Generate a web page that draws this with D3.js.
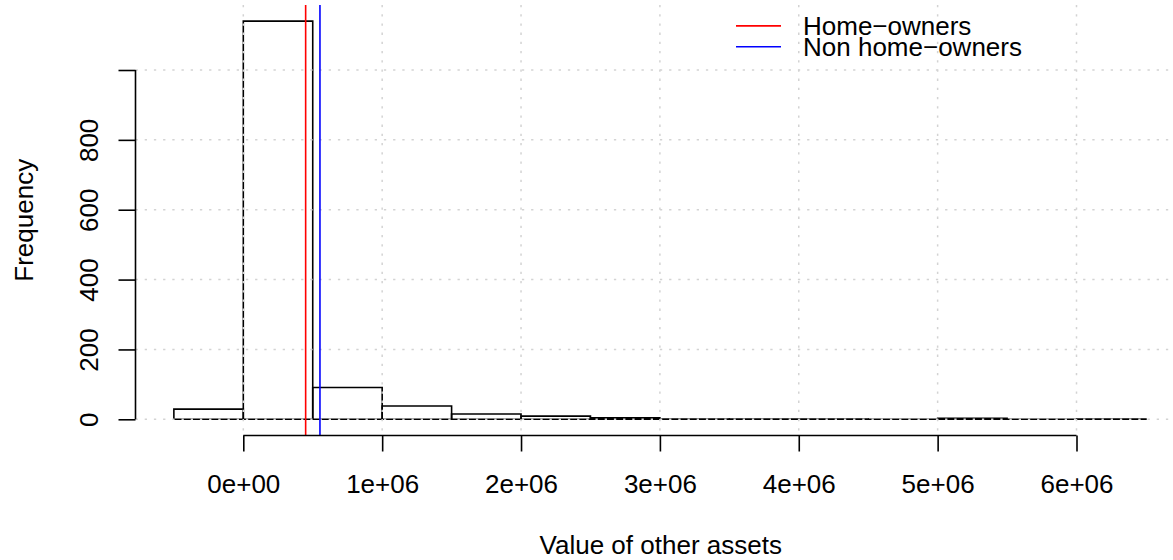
<!DOCTYPE html>
<html>
<head>
<meta charset="utf-8">
<script src="https://cdn.jsdelivr.net/npm/d3@7/dist/d3.min.js"></script>
<style>
  body { margin: 0; background: #ffffff; }
  svg { display: block; }
  text { font-family: "Liberation Sans", Arial, Helvetica, sans-serif; fill: #000; }
</style>
</head>
<body>
<svg id="chart" width="1173" height="560"></svg>
<script>
// Histogram breaks (value of other assets) and bin counts
const breaks = [-500000, 0, 500000, 1000000, 1500000, 2000000, 2500000, 3000000,
                3500000, 4000000, 4500000, 5000000, 5500000, 6000000, 6500000];
const counts = [29, 1140, 91, 38, 15, 9, 4, 1, 1, 1, 0, 3, 0, 1];

// Axis tick values; the top y tick is left unlabelled
const xTicks = [0, 1000000, 2000000, 3000000, 4000000, 5000000, 6000000];
const yTicks = [0, 200, 400, 600, 800, 1000];
const yTickLabels = ["0", "200", "400", "600", "800", ""];

// Group mean lines
const groupNames = ["Home\u2212owners", "Non home\u2212owners"];
const groupMeans = [449000, 552000];
const groupColors = ["#ff0000", "#0000ff"];

const FONT = 26;
const plot = { left: 135.5, right: 1186, top: 5, bottom: 435.5 };

const svg = d3.select("#chart");

const x = d3.scaleLinear().domain([0, 6000000]).range([243.3, 1076.5]);
const y = d3.scaleLinear().domain([0, 1000]).range([419.3, 70]);

// Scientific labels, e.g. 1e+06
function sci(v) {
  if (v === 0) return "0e+00";
  const e = Math.floor(Math.log10(Math.abs(v)));
  const m = Math.round(v / Math.pow(10, e));
  return m + "e" + (e >= 0 ? "+" : "-") + String(Math.abs(e)).padStart(2, "0");
}

// Histogram bars (outline only)
const bins = counts.map((c, i) => ({ lo: breaks[i], hi: breaks[i + 1], n: c }));
svg.append("g").selectAll("path").data(bins).join("path")
  .attr("d", d => `M${x(d.lo)},${y(0)}V${y(d.n)}H${x(d.hi)}V${y(0)}Z`)
  .attr("fill", "none")
  .attr("stroke", "#000")
  .attr("stroke-width", 1.6)
  .attr("stroke-linejoin", "miter");

// Dotted grid on top of the bars
const grid = svg.append("g")
  .attr("stroke", "#d3d3d3")
  .attr("stroke-width", 1.5)
  .attr("stroke-dasharray", "2.3,6.9");
grid.selectAll("line.v").data(xTicks).join("line").attr("class", "v")
  .attr("x1", d => x(d)).attr("x2", d => x(d))
  .attr("y1", plot.top).attr("y2", plot.bottom);
grid.selectAll("line.h").data(yTicks).join("line").attr("class", "h")
  .attr("x1", plot.left).attr("x2", plot.right)
  .attr("y1", d => y(d)).attr("y2", d => y(d));

// Mean lines
svg.append("g").selectAll("line").data(groupMeans).join("line")
  .attr("x1", d => x(d)).attr("x2", d => x(d))
  .attr("y1", plot.top).attr("y2", plot.bottom)
  .attr("stroke", (d, i) => groupColors[i])
  .attr("stroke-width", 1.6);

// X axis
const xAxis = svg.append("g")
  .attr("transform", `translate(0,${plot.bottom})`)
  .call(d3.axisBottom(x).tickValues(xTicks).tickFormat(sci).tickSize(16).tickSizeOuter(0));
xAxis.select(".domain").remove();
xAxis.append("line")
  .attr("x1", x(xTicks[0])).attr("x2", x(xTicks[xTicks.length - 1]))
  .attr("stroke", "#000").attr("stroke-width", 1.6);
xAxis.selectAll(".tick line").attr("stroke", "#000").attr("stroke-width", 1.6);
xAxis.selectAll(".tick text")
  .attr("y", 57.8).attr("dy", null)
  .attr("font-size", FONT)
  .attr("font-family", null)
  .attr("text-anchor", "middle");

// Y axis
const yAxis = svg.append("g")
  .attr("transform", `translate(${plot.left},0)`)
  .call(d3.axisLeft(y).tickValues(yTicks)
    .tickFormat((d, i) => yTickLabels[i]).tickSize(17).tickSizeOuter(0));
yAxis.select(".domain").remove();
yAxis.append("line")
  .attr("y1", y(yTicks[0])).attr("y2", y(yTicks[yTicks.length - 1]))
  .attr("stroke", "#000").attr("stroke-width", 1.6);
yAxis.selectAll(".tick line").attr("stroke", "#000").attr("stroke-width", 1.6);
yAxis.selectAll(".tick text")
  .attr("x", 0).attr("y", 0).attr("dy", null)
  .attr("transform", "translate(-37.5,0) rotate(-90)")
  .attr("font-size", FONT)
  .attr("font-family", null)
  .attr("text-anchor", "middle");

// Axis titles
svg.append("text")
  .attr("x", (plot.left + plot.right) / 2).attr("y", 553.5)
  .attr("text-anchor", "middle").attr("font-size", FONT)
  .text("Value of other assets");
svg.append("text")
  .attr("transform", `translate(33,${(plot.top + plot.bottom) / 2}) rotate(-90)`)
  .attr("text-anchor", "middle").attr("font-size", FONT)
  .text("Frequency");

// Legend (no box)
const legend = svg.append("g");
const legendRows = legend.selectAll("g").data(groupNames).join("g")
  .attr("transform", (d, i) => `translate(736,${25.9 + i * 20.8})`);
legendRows.append("line")
  .attr("x1", 0).attr("x2", 45)
  .attr("stroke", (d, i) => groupColors[i]).attr("stroke-width", 1.6);
legendRows.append("text")
  .attr("x", 67).attr("y", 0).attr("dy", "0.36em")
  .attr("font-size", FONT)
  .text(d => d);
</script>
</body>
</html>
